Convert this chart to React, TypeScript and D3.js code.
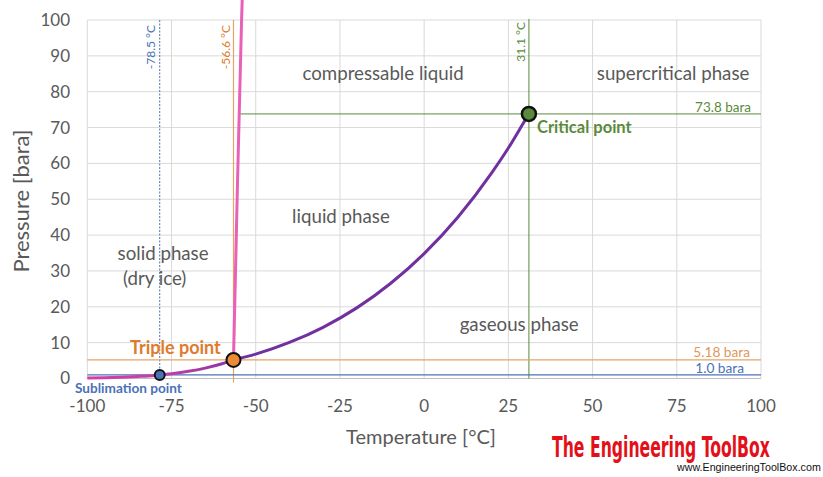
import React from "react";
import * as d3 from "d3";

// sublimation curve  (temperature °C, pressure bara)
const sublimationT = [-100, -95, -90, -85, -80, -78.5, -75, -70, -65, -60, -56.6];
const sublimationP = [0.14, 0.23, 0.37, 0.58, 0.87, 1.0, 1.35, 2.0, 2.9, 4.1, 5.18];

// melting curve
const meltingT = [-56.6, -55.4, -54.2, -54.0];
const meltingP = [5.18, 55, 100, 106];

// vapour pressure curve
const vaporT = [-56.6, -50, -40, -30, -20, -10, 0, 10, 20, 25, 30, 31.1];
const vaporP = [5.18, 6.8, 10.05, 14.28, 19.7, 26.5, 34.85, 45.0, 57.3, 64.3, 72.1, 73.8];

const xTicks = [-100, -75, -50, -25, 0, 25, 50, 75, 100];
const yTicks = [0, 10, 20, 30, 40, 50, 60, 70, 80, 90, 100];

const sublimationPoint = { t: -78.5, p: 1.0 };
const triplePoint = { t: -56.6, p: 5.18 };
const criticalPoint = { t: 31.1, p: 73.8 };

const phaseLabels = [
  { text: "compressable liquid", t: -12.2, p: 85.2 },
  { text: "supercritical phase", t: 73.9, p: 85.2 },
  { text: "liquid phase", t: -24.7, p: 45.3 },
  { text: "solid phase", t: -77.5, p: 35.0 },
  { text: "(dry ice)", t: -80, p: 28.0 },
  { text: "gaseous phase", t: 28.2, p: 15.2 },
];

const W = 823;
const H = 477;
const grey = "#595959";
const gridCol = "#d9d9d9";
const blue = "#4a72b8";
const orange = "#e07b2c";
const green = "#5a8a3c";
const purple = "#7030a0";
const pink = "#e860b8";
const font = "Lato, 'Open Sans', sans-serif";

const logoFont = "bold 28px 'Liberation Sans Narrow', 'DejaVu Sans Condensed', sans-serif";
const urlFont = "10px 'Liberation Sans', Arial, sans-serif";

// horizontal squeeze so a text fits a given width
function fitScale(text: string, cssFont: string, width: number) {
  const ctx = document.createElement("canvas").getContext("2d");
  if (!ctx) return 1;
  ctx.font = cssFont;
  const w = ctx.measureText(text).width;
  return w > 0 ? width / w : 1;
}

export default function App() {
  const x = d3.scaleLinear().domain([-100, 100]).range([87.3, 761]);
  const y = d3.scaleLinear().domain([0, 100]).range([378.5, 20]);

  const line = d3
    .line<[number, number]>()
    .x((d) => x(d[0]))
    .y((d) => y(d[1]))
    .curve(d3.curveMonotoneX);
  const lineLin = d3
    .line<[number, number]>()
    .x((d) => x(d[0]))
    .y((d) => y(d[1]));

  const subl = sublimationT.map((t, i) => [t, sublimationP[i]] as [number, number]);
  const melt = meltingT.map((t, i) => [t, meltingP[i]] as [number, number]);
  const vap = vaporT.map((t, i) => [t, vaporP[i]] as [number, number]);

  const logoText = "The Engineering ToolBox";
  const urlText = "www.EngineeringToolBox.com";
  const logoK = fitScale(logoText, logoFont, 218);
  const urlK = fitScale(urlText, urlFont, 144);

  return (
    <div style={{ position: "absolute", left: 0, top: 0 }}>
      <svg width={W} height={H} style={{ display: "block", background: "#fff" }}>
        <defs>
          <linearGradient id="sublGrad" gradientUnits="userSpaceOnUse" x1={x(-100)} x2={x(-56.6)} y1={0} y2={0}>
            <stop offset="0" stopColor="#d63fa6" />
            <stop offset="0.55" stopColor="#c13fa8" />
            <stop offset="1" stopColor="#8a35a8" />
          </linearGradient>
        </defs>

        {/* grid */}
        {xTicks.map((t) => (
          <line key={"gx" + t} x1={x(t)} x2={x(t)} y1={y(100)} y2={y(0)} stroke={gridCol} strokeWidth={1} />
        ))}
        {yTicks.map((t) => (
          <line key={"gy" + t} x1={x(-100)} x2={x(100)} y1={y(t)} y2={y(t)} stroke={gridCol} strokeWidth={1} />
        ))}
        <line x1={x(-100)} x2={x(100)} y1={y(0)} y2={y(0)} stroke="#bfbfbf" strokeWidth={1} />

        {/* tick labels */}
        {yTicks.map((t) => (
          <text key={"ty" + t} x={70} y={y(t)} dy="0.35em" textAnchor="end" fontSize={17} fill={grey} fontFamily={font}>
            {t}
          </text>
        ))}
        {xTicks.map((t) => (
          <text key={"tx" + t} x={x(t)} y={406} dy="0.35em" textAnchor="middle" fontSize={17} fill={grey} fontFamily={font}>
            {t}
          </text>
        ))}
        <text x={421} y={437} dy="0.35em" textAnchor="middle" fontSize={20} fill={grey} fontFamily={font}>
          Temperature [°C]
        </text>
        <text
          transform={`translate(21,${y(49.5)}) rotate(-90)`}
          dy="0.35em"
          textAnchor="middle"
          fontSize={22}
          fill={grey}
          fontFamily={font}
        >
          Pressure [bara]
        </text>

        {/* reference lines */}
        <line x1={x(sublimationPoint.t)} x2={x(sublimationPoint.t)} y1={y(100)} y2={y(sublimationPoint.p)} stroke={blue} strokeWidth={1} strokeDasharray="2,1.5" />
        <line x1={x(triplePoint.t)} x2={x(triplePoint.t)} y1={y(100)} y2={y(0) + 4} stroke="#e6a366" strokeWidth={1.2} />
        <line x1={x(criticalPoint.t)} x2={x(criticalPoint.t)} y1={y(100) - 1} y2={y(0)} stroke={green} strokeWidth={1} />
        <line x1={x(-54.6)} x2={x(100)} y1={y(criticalPoint.p)} y2={y(criticalPoint.p)} stroke={green} strokeWidth={1} />
        <line x1={x(-100)} x2={x(100)} y1={y(triplePoint.p)} y2={y(triplePoint.p)} stroke="#e6a366" strokeWidth={1.2} />
        <line x1={x(-100)} x2={x(100)} y1={y(sublimationPoint.p)} y2={y(sublimationPoint.p)} stroke={blue} strokeWidth={1.2} />

        <text transform={`translate(${x(sublimationPoint.t) - 9},${y(100) + 5}) rotate(-90)`} dy="0.35em" textAnchor="end" fontSize={12} fill={blue} fontFamily={font}>
          -78.5 °C
        </text>
        <text transform={`translate(${x(triplePoint.t) - 8},${y(100) + 5}) rotate(-90)`} dy="0.35em" textAnchor="end" fontSize={12} fill={orange} fontFamily={font}>
          -56.6 °C
        </text>
        <text transform={`translate(${x(criticalPoint.t) - 8},${y(100) + 2}) rotate(-90)`} dy="0.35em" textAnchor="end" fontSize={12} fill={green} fontFamily={font}>
          31.1 °C
        </text>
        <text x={751} y={y(criticalPoint.p) - 7} dy="0.35em" textAnchor="end" fontSize={13.5} fill={green} fontFamily={font}>
          73.8 bara
        </text>
        <text x={750} y={y(triplePoint.p) - 8} dy="0.35em" textAnchor="end" fontSize={13.7} fill="#e0975a" fontFamily={font}>
          5.18 bara
        </text>
        <text x={744} y={y(sublimationPoint.p) - 7} dy="0.35em" textAnchor="end" fontSize={13.7} fill={blue} fontFamily={font}>
          1.0 bara
        </text>

        {/* phase labels */}
        {phaseLabels.map((l) => (
          <text key={l.text} x={x(l.t)} y={y(l.p)} dy="0.35em" textAnchor="middle" fontSize={18.7} fill={grey} fontFamily={font}>
            {l.text}
          </text>
        ))}

        {/* curves */}
        <path d={line(subl) || ""} fill="none" stroke="url(#sublGrad)" strokeWidth={3} />
        <path d={lineLin(melt) || ""} fill="none" stroke={pink} strokeWidth={3} />
        <path d={line(vap) || ""} fill="none" stroke={purple} strokeWidth={3} />

        {/* points */}
        <circle cx={x(sublimationPoint.t)} cy={y(sublimationPoint.p)} r={5} fill={blue} stroke="#111" strokeWidth={2} />
        <circle cx={x(triplePoint.t)} cy={y(triplePoint.p)} r={7} fill="#ed8a35" stroke="#111" strokeWidth={2} />
        <circle cx={x(criticalPoint.t)} cy={y(criticalPoint.p)} r={7} fill={green} stroke="#111" strokeWidth={2.5} />

        <text x={130} y={348} dy="0.35em" fontSize={18} fontWeight="bold" fill={orange} fontFamily={font}>
          Triple point
        </text>
        <text x={537} y={127} dy="0.35em" fontSize={16.5} fontWeight="bold" fill={green} fontFamily={font}>
          Critical point
        </text>
        <text x={75} y={388} dy="0.35em" fontSize={13.6} fontWeight="bold" fill={blue} fontFamily={font}>
          Sublimation point
        </text>

        {/* logo */}
        <text
          transform={`translate(552,457) scale(${logoK},1)`}
          fontSize={28}
          fontWeight="bold"
          fill="#e3101a"
          fontFamily="'Liberation Sans Narrow', 'DejaVu Sans Condensed', sans-serif"
        >
          {logoText}
        </text>
        <text
          transform={`translate(677,471) scale(${urlK},1)`}
          fontSize={10}
          fill="#111"
          fontFamily="'Liberation Sans', Arial, sans-serif"
        >
          {urlText}
        </text>
      </svg>
    </div>
  );
}
